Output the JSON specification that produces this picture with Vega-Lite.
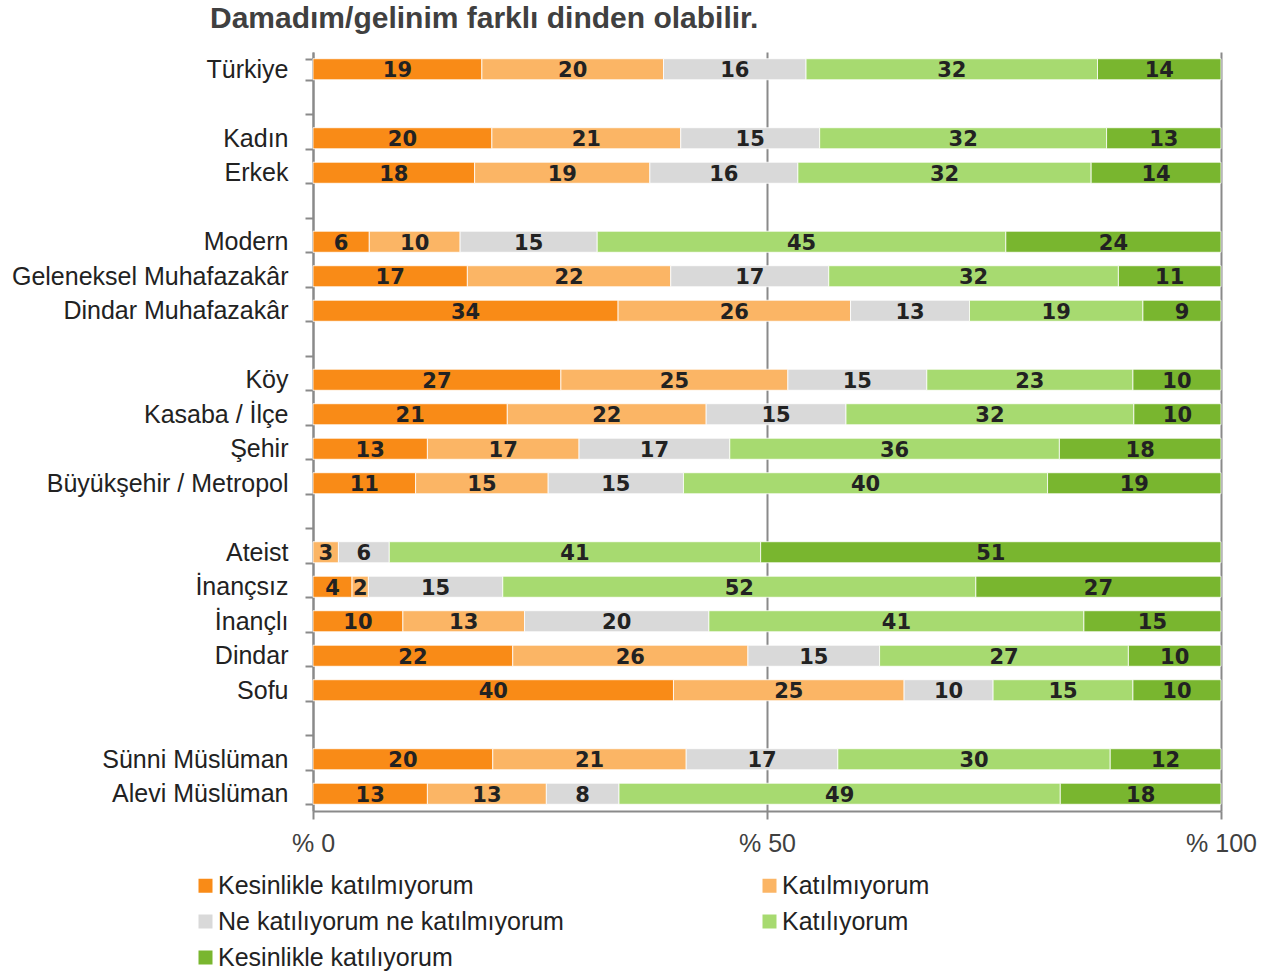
{
  "$schema": "https://vega.github.io/schema/vega-lite/v6.json",
  "autosize": {"type": "none"},
  "padding": {"left": 313, "top": 52, "right": 53, "bottom": 162},
  "width": 908,
  "height": 759,
  "background": "white",
  "title": {"text": "Damadım/gelinim farklı dinden olabilir.", "anchor": "start", "frame": "group", "dx": -103, "offset": 6, "font": "Liberation Sans", "fontSize": 30, "fontWeight": "bold", "color": "#404040"},
  "data": {"values": [
    {"grup": "Türkiye", "yanit": "Kesinlikle katılmıyorum", "deger": 18.6},
    {"grup": "Türkiye", "yanit": "Katılmıyorum", "deger": 20.0},
    {"grup": "Türkiye", "yanit": "Ne katılıyorum ne katılmıyorum", "deger": 15.7},
    {"grup": "Türkiye", "yanit": "Katılıyorum", "deger": 32.1},
    {"grup": "Türkiye", "yanit": "Kesinlikle katılıyorum", "deger": 13.6},
    {"grup": "Kadın", "yanit": "Kesinlikle katılmıyorum", "deger": 19.7},
    {"grup": "Kadın", "yanit": "Katılmıyorum", "deger": 20.8},
    {"grup": "Kadın", "yanit": "Ne katılıyorum ne katılmıyorum", "deger": 15.3},
    {"grup": "Kadın", "yanit": "Katılıyorum", "deger": 31.6},
    {"grup": "Kadın", "yanit": "Kesinlikle katılıyorum", "deger": 12.6},
    {"grup": "Erkek", "yanit": "Kesinlikle katılmıyorum", "deger": 17.8},
    {"grup": "Erkek", "yanit": "Katılmıyorum", "deger": 19.3},
    {"grup": "Erkek", "yanit": "Ne katılıyorum ne katılmıyorum", "deger": 16.3},
    {"grup": "Erkek", "yanit": "Katılıyorum", "deger": 32.3},
    {"grup": "Erkek", "yanit": "Kesinlikle katılıyorum", "deger": 14.3},
    {"grup": "Modern", "yanit": "Kesinlikle katılmıyorum", "deger": 6.2},
    {"grup": "Modern", "yanit": "Katılmıyorum", "deger": 10.0},
    {"grup": "Modern", "yanit": "Ne katılıyorum ne katılmıyorum", "deger": 15.1},
    {"grup": "Modern", "yanit": "Katılıyorum", "deger": 45.0},
    {"grup": "Modern", "yanit": "Kesinlikle katılıyorum", "deger": 23.7},
    {"grup": "Geleneksel Muhafazakâr", "yanit": "Kesinlikle katılmıyorum", "deger": 17.0},
    {"grup": "Geleneksel Muhafazakâr", "yanit": "Katılmıyorum", "deger": 22.4},
    {"grup": "Geleneksel Muhafazakâr", "yanit": "Ne katılıyorum ne katılmıyorum", "deger": 17.4},
    {"grup": "Geleneksel Muhafazakâr", "yanit": "Katılıyorum", "deger": 31.9},
    {"grup": "Geleneksel Muhafazakâr", "yanit": "Kesinlikle katılıyorum", "deger": 11.3},
    {"grup": "Dindar Muhafazakâr", "yanit": "Kesinlikle katılmıyorum", "deger": 33.6},
    {"grup": "Dindar Muhafazakâr", "yanit": "Katılmıyorum", "deger": 25.6},
    {"grup": "Dindar Muhafazakâr", "yanit": "Ne katılıyorum ne katılmıyorum", "deger": 13.1},
    {"grup": "Dindar Muhafazakâr", "yanit": "Katılıyorum", "deger": 19.1},
    {"grup": "Dindar Muhafazakâr", "yanit": "Kesinlikle katılıyorum", "deger": 8.6},
    {"grup": "Köy", "yanit": "Kesinlikle katılmıyorum", "deger": 27.3},
    {"grup": "Köy", "yanit": "Katılmıyorum", "deger": 25.0},
    {"grup": "Köy", "yanit": "Ne katılıyorum ne katılmıyorum", "deger": 15.3},
    {"grup": "Köy", "yanit": "Katılıyorum", "deger": 22.7},
    {"grup": "Köy", "yanit": "Kesinlikle katılıyorum", "deger": 9.7},
    {"grup": "Kasaba / İlçe", "yanit": "Kesinlikle katılmıyorum", "deger": 21.4},
    {"grup": "Kasaba / İlçe", "yanit": "Katılmıyorum", "deger": 21.9},
    {"grup": "Kasaba / İlçe", "yanit": "Ne katılıyorum ne katılmıyorum", "deger": 15.4},
    {"grup": "Kasaba / İlçe", "yanit": "Katılıyorum", "deger": 31.7},
    {"grup": "Kasaba / İlçe", "yanit": "Kesinlikle katılıyorum", "deger": 9.6},
    {"grup": "Şehir", "yanit": "Kesinlikle katılmıyorum", "deger": 12.6},
    {"grup": "Şehir", "yanit": "Katılmıyorum", "deger": 16.7},
    {"grup": "Şehir", "yanit": "Ne katılıyorum ne katılmıyorum", "deger": 16.6},
    {"grup": "Şehir", "yanit": "Katılıyorum", "deger": 36.3},
    {"grup": "Şehir", "yanit": "Kesinlikle katılıyorum", "deger": 17.8},
    {"grup": "Büyükşehir / Metropol", "yanit": "Kesinlikle katılmıyorum", "deger": 11.3},
    {"grup": "Büyükşehir / Metropol", "yanit": "Katılmıyorum", "deger": 14.6},
    {"grup": "Büyükşehir / Metropol", "yanit": "Ne katılıyorum ne katılmıyorum", "deger": 14.9},
    {"grup": "Büyükşehir / Metropol", "yanit": "Katılıyorum", "deger": 40.1},
    {"grup": "Büyükşehir / Metropol", "yanit": "Kesinlikle katılıyorum", "deger": 19.1},
    {"grup": "Ateist", "yanit": "Katılmıyorum", "deger": 2.8},
    {"grup": "Ateist", "yanit": "Ne katılıyorum ne katılmıyorum", "deger": 5.6},
    {"grup": "Ateist", "yanit": "Katılıyorum", "deger": 40.9},
    {"grup": "Ateist", "yanit": "Kesinlikle katılıyorum", "deger": 50.7},
    {"grup": "İnançsız", "yanit": "Kesinlikle katılmıyorum", "deger": 4.3},
    {"grup": "İnançsız", "yanit": "Katılmıyorum", "deger": 1.8},
    {"grup": "İnançsız", "yanit": "Ne katılıyorum ne katılmıyorum", "deger": 14.8},
    {"grup": "İnançsız", "yanit": "Katılıyorum", "deger": 52.1},
    {"grup": "İnançsız", "yanit": "Kesinlikle katılıyorum", "deger": 27.0},
    {"grup": "İnançlı", "yanit": "Kesinlikle katılmıyorum", "deger": 9.9},
    {"grup": "İnançlı", "yanit": "Katılmıyorum", "deger": 13.4},
    {"grup": "İnançlı", "yanit": "Ne katılıyorum ne katılmıyorum", "deger": 20.3},
    {"grup": "İnançlı", "yanit": "Katılıyorum", "deger": 41.3},
    {"grup": "İnançlı", "yanit": "Kesinlikle katılıyorum", "deger": 15.1},
    {"grup": "Dindar", "yanit": "Kesinlikle katılmıyorum", "deger": 22.0},
    {"grup": "Dindar", "yanit": "Katılmıyorum", "deger": 25.9},
    {"grup": "Dindar", "yanit": "Ne katılıyorum ne katılmıyorum", "deger": 14.5},
    {"grup": "Dindar", "yanit": "Katılıyorum", "deger": 27.4},
    {"grup": "Dindar", "yanit": "Kesinlikle katılıyorum", "deger": 10.2},
    {"grup": "Sofu", "yanit": "Kesinlikle katılmıyorum", "deger": 39.7},
    {"grup": "Sofu", "yanit": "Katılmıyorum", "deger": 25.4},
    {"grup": "Sofu", "yanit": "Ne katılıyorum ne katılmıyorum", "deger": 9.8},
    {"grup": "Sofu", "yanit": "Katılıyorum", "deger": 15.4},
    {"grup": "Sofu", "yanit": "Kesinlikle katılıyorum", "deger": 9.7},
    {"grup": "Sünni Müslüman", "yanit": "Kesinlikle katılmıyorum", "deger": 19.8},
    {"grup": "Sünni Müslüman", "yanit": "Katılmıyorum", "deger": 21.3},
    {"grup": "Sünni Müslüman", "yanit": "Ne katılıyorum ne katılmıyorum", "deger": 16.7},
    {"grup": "Sünni Müslüman", "yanit": "Katılıyorum", "deger": 30.0},
    {"grup": "Sünni Müslüman", "yanit": "Kesinlikle katılıyorum", "deger": 12.2},
    {"grup": "Alevi Müslüman", "yanit": "Kesinlikle katılmıyorum", "deger": 12.6},
    {"grup": "Alevi Müslüman", "yanit": "Katılmıyorum", "deger": 13.1},
    {"grup": "Alevi Müslüman", "yanit": "Ne katılıyorum ne katılmıyorum", "deger": 8.0},
    {"grup": "Alevi Müslüman", "yanit": "Katılıyorum", "deger": 48.6},
    {"grup": "Alevi Müslüman", "yanit": "Kesinlikle katılıyorum", "deger": 17.7}
  ]},
  "transform": [
    {"lookup": "yanit", "from": {"data": {"values": [
      {"yanit": "Kesinlikle katılmıyorum", "sira": 1},
      {"yanit": "Katılmıyorum", "sira": 2},
      {"yanit": "Ne katılıyorum ne katılmıyorum", "sira": 3},
      {"yanit": "Katılıyorum", "sira": 4},
      {"yanit": "Kesinlikle katılıyorum", "sira": 5}
    ]}, "key": "yanit", "fields": ["sira"]}}
  ],
  "encoding": {
    "y": {
      "field": "grup", "type": "nominal",
      "scale": {
        "domain": ["Türkiye", " ", "Kadın", "Erkek", "  ", "Modern", "Geleneksel Muhafazakâr", "Dindar Muhafazakâr", "   ", "Köy", "Kasaba / İlçe", "Şehir", "Büyükşehir / Metropol", "    ", "Ateist", "İnançsız", "İnançlı", "Dindar", "Sofu", "     ", "Sünni Müslüman", "Alevi Müslüman"],
        "paddingInner": 0.39, "paddingOuter": 0.195
      },
      "axis": {
        "title": null, "tickBand": "extent", "domainColor": "#8a8a8a", "domainWidth": 2,
        "tickColor": "#8a8a8a", "tickWidth": 2, "tickSize": 8,
        "labelFont": "Liberation Sans", "labelFontSize": 25, "labelColor": "#222222",
        "labelPadding": 17, "labelLimit": 400
      }
    },
    "order": {"field": "sira", "type": "quantitative", "sort": "ascending"}
  },
  "layer": [
    {
      "mark": {"type": "bar", "stroke": "white", "strokeWidth": 0.8},
      "encoding": {
        "x": {
          "field": "deger", "type": "quantitative", "stack": "zero",
          "scale": {"domain": [0, 100], "nice": false},
          "axis": {
            "title": null, "values": [0, 50, 100], "labelExpr": "'% ' + datum.value", "labelFlush": false,
            "grid": true, "gridColor": "#8a8a8a", "gridWidth": 2,
            "domainColor": "#8a8a8a", "domainWidth": 2, "tickColor": "#8a8a8a", "tickWidth": 2, "tickSize": 8,
            "labelFont": "Liberation Sans", "labelFontSize": 25, "labelColor": "#404040", "labelPadding": 12
          }
        },
        "color": {
          "field": "yanit", "type": "nominal",
          "scale": {
            "domain": ["Kesinlikle katılmıyorum", "Katılmıyorum", "Ne katılıyorum ne katılmıyorum", "Katılıyorum", "Kesinlikle katılıyorum"],
            "range": ["#F98B17", "#FBB565", "#D9D9D9", "#A7DA70", "#79B62F"]
          },
          "legend": {
            "title": null, "orient": "none", "legendX": -120, "legendY": 821, "columns": 2, "direction": "horizontal",
            "columnPadding": 193, "rowPadding": 10, "symbolType": "square", "symbolSize": 196,
            "symbolStrokeWidth": 0, "symbolOpacity": 1, "labelFont": "Liberation Sans", "labelFontSize": 25,
            "labelColor": "#222222", "labelOffset": 0, "padding": 0, "labelLimit": 600
          }
        }
      }
    },
    {
      "mark": {"type": "text", "font": "DejaVu Sans", "fontWeight": "bold", "fontSize": 21, "baseline": "middle", "dy": 2, "color": "#222222"},
      "encoding": {
        "x": {
          "field": "deger", "type": "quantitative", "stack": "zero", "bandPosition": 0.5,
          "scale": {"domain": [0, 100], "nice": false},
          "axis": {
            "title": null, "values": [0, 50, 100], "labelExpr": "'% ' + datum.value", "labelFlush": false,
            "grid": true, "gridColor": "#8a8a8a", "gridWidth": 2,
            "domainColor": "#8a8a8a", "domainWidth": 2, "tickColor": "#8a8a8a", "tickWidth": 2, "tickSize": 8,
            "labelFont": "Liberation Sans", "labelFontSize": 25, "labelColor": "#404040", "labelPadding": 12
          }
        },
        "detail": {"field": "yanit"},
        "text": {"field": "deger", "type": "quantitative", "format": ".0f"}
      }
    }
  ],
  "config": {"view": {"stroke": null}}
}
